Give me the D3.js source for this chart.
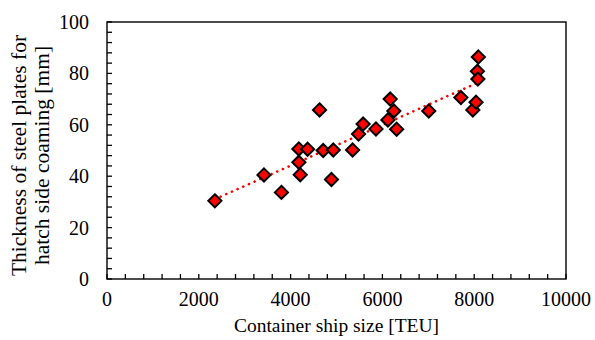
<!DOCTYPE html>
<html><head><meta charset="utf-8">
<script src="https://cdn.jsdelivr.net/npm/d3@7"></script>
<style>body{margin:0;background:#fff}svg{display:block}</style>
</head><body><svg id="c" width="595" height="340" font-family="'Liberation Serif', 'DejaVu Serif', serif"></svg>
<script>
const shipSizeTEU = [2350,3420,3800,4180,4180,4210,4370,4630,4710,4890,4930,5350,5480,5580,5860,6120,6170,6250,6310,7010,7710,7970,8040,8070,8080,8090];
const thicknessMM = [30.4,40.5,33.7,50.6,45.4,40.6,50.5,65.8,50.0,38.7,50.2,50.2,56.4,60.3,58.4,61.9,70.0,65.4,58.3,65.4,70.6,65.8,68.8,80.8,77.8,86.4];
const xTicks = [0,2000,4000,6000,8000,10000];
const yTicks = [0,20,40,60,80,100];
const xTitle = "Container ship size [TEU]";
const yTitleLines = ["Thickness of steel plates for","hatch side coaming [mm]"];

const FONT = "'Liberation Serif', 'DejaVu Serif', serif";
const svg = d3.select("#c");
const L=107,R=566,T=22,B=279;
const x = d3.scaleLinear().domain([0,10000]).range([L,R]);
const y = d3.scaleLinear().domain([0,100]).range([B,T]);

// minor ticks
const g = svg.append("g");
g.selectAll(".xm").data(d3.range(0,10001,400)).join("line")
  .attr("x1",d=>x(d)).attr("x2",d=>x(d)).attr("y1",B).attr("y2",B-5)
  .attr("stroke","#000").attr("stroke-width",1.3);
g.selectAll(".ym").data(d3.range(0,101,4)).join("line")
  .attr("y1",d=>y(d)).attr("y2",d=>y(d)).attr("x1",L).attr("x2",L+5)
  .attr("stroke","#000").attr("stroke-width",1.3);

// frame
svg.append("rect").attr("x",L).attr("y",T).attr("width",R-L).attr("height",B-T)
  .attr("fill","none").attr("stroke","#000").attr("stroke-width",1.4);

// tick labels
svg.selectAll(".xl").data(xTicks).join("text")
  .attr("x",d=>x(d)).attr("y",306).attr("text-anchor","middle")
  .attr("font-family",FONT).attr("font-size",20).text(d=>d);
svg.selectAll(".yl").data(yTicks).join("text")
  .attr("x",89).attr("y",d=>y(d)+7).attr("text-anchor","end")
  .attr("font-family",FONT).attr("font-size",20).text(d=>d);

// titles
svg.append("text").attr("x",(L+R)/2).attr("y",332).attr("text-anchor","middle")
  .attr("font-family",FONT).attr("font-size",19.5).text(xTitle);
const yt = svg.append("text").attr("transform",`translate(26,${(T+B)/2+5}) rotate(-90)`)
  .attr("text-anchor","middle").attr("font-family",FONT).attr("font-size",21.5);
yTitleLines.forEach((t,i)=>yt.append("tspan").attr("x",0).attr("dy",i?23:0).text(t));

// linear trend (least squares)
const n=shipSizeTEU.length;
const mx=d3.mean(shipSizeTEU), my=d3.mean(thicknessMM);
let sxy=0,sxx=0;
for(let i=0;i<n;i++){sxy+=(shipSizeTEU[i]-mx)*(thicknessMM[i]-my);sxx+=(shipSizeTEU[i]-mx)**2;}
const slope=sxy/sxx, icpt=my-slope*mx;
const x0=d3.min(shipSizeTEU), x1=d3.max(shipSizeTEU);
svg.append("line").attr("x1",x(x0)).attr("y1",y(icpt+slope*x0))
  .attr("x2",x(x1)).attr("y2",y(icpt+slope*x1))
  .attr("stroke","#ff0000").attr("stroke-width",2.6)
  .attr("stroke-linecap","round").attr("stroke-dasharray","0.1 6.1");

// markers
const sym = d3.symbol().type(d3.symbolDiamond2).size(110);
svg.selectAll(".pt").data(shipSizeTEU).join("path")
  .attr("transform",(d,i)=>`translate(${x(d)},${y(thicknessMM[i])})`)
  .attr("d",sym).attr("fill","#ff0000").attr("stroke","#000").attr("stroke-width",2);
</script></body></html>
